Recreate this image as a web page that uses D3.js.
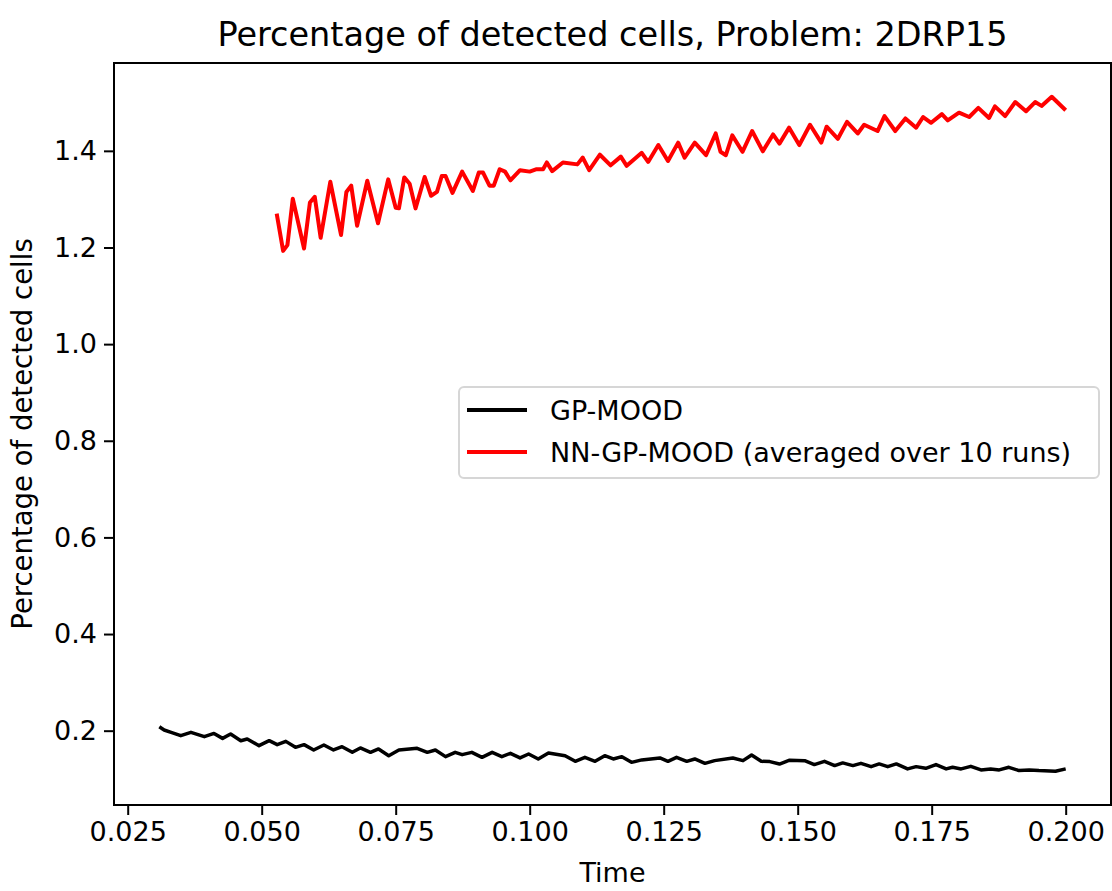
<!DOCTYPE html>
<html>
<head>
<meta charset="utf-8">
<script src="https://cdn.jsdelivr.net/npm/d3@7"></script>
<style>
  body { margin: 0; background: #fff; }
  text { font-family: "DejaVu Sans", sans-serif; fill: #000; }
</style>
</head>
<body>
<div id="chart"></div>
<script>
var width = 1112;
var height = 891;

// GP-MOOD (black)
var blackTime = [0.0309,0.0318,0.0331,0.0349,0.0368,0.0393,0.0411,0.0427,0.0442,0.0461,0.0473,0.0495,0.0514,0.0529,0.0545,0.0563,0.0579,0.0597,0.0616,0.0634,0.0650,0.0669,0.0684,0.0703,0.0718,0.0737,0.0756,0.0790,0.0809,0.0824,0.0843,0.0861,0.0874,0.0892,0.0911,0.0930,0.0948,0.0964,0.0982,0.0998,0.1016,0.1035,0.1066,0.1085,0.1103,0.1122,0.1140,0.1156,0.1172,0.1190,0.1209,0.1243,0.1258,0.1274,0.1293,0.1308,0.1327,0.1345,0.1379,0.1398,0.1414,0.1432,0.1448,0.1466,0.1485,0.1513,0.1531,0.1550,0.1569,0.1584,0.1603,0.1618,0.1637,0.1652,0.1668,0.1684,0.1705,0.1721,0.1739,0.1758,0.1777,0.1789,0.1805,0.1823,0.1842,0.1860,0.1876,0.1894,0.1913,0.1932,0.1950,0.1981,0.2000];
var blackVal = [0.208,0.2014,0.1965,0.1897,0.1965,0.1876,0.1944,0.1841,0.1932,0.1793,0.1828,0.1690,0.1793,0.1711,0.1779,0.1655,0.1711,0.1601,0.1704,0.1601,0.1669,0.1552,0.1642,0.1552,0.1622,0.1483,0.1601,0.1635,0.1552,0.1601,0.1463,0.1552,0.1504,0.1552,0.1448,0.1552,0.1463,0.1531,0.1436,0.1518,0.1415,0.1539,0.1483,0.1366,0.1448,0.1366,0.1483,0.1415,0.1463,0.1345,0.1395,0.1436,0.1366,0.1448,0.1366,0.1415,0.1324,0.1380,0.1436,0.1380,0.1498,0.1366,0.1360,0.1310,0.1390,0.1380,0.1298,0.1366,0.1277,0.1333,0.1277,0.1324,0.1256,0.1312,0.1256,0.1312,0.1209,0.1256,0.1221,0.1298,0.1209,0.1242,0.1209,0.1262,0.1188,0.1209,0.1188,0.1242,0.1174,0.1188,0.1174,0.1160,0.1209];

// NN-GP-MOOD (red)
var redTime = [0.0528,0.0540,0.0548,0.0558,0.0579,0.0590,0.0599,0.0610,0.0628,0.0648,0.0658,0.0667,0.0678,0.0697,0.0717,0.0736,0.0750,0.0756,0.0766,0.0776,0.0787,0.0804,0.0816,0.0827,0.0836,0.0843,0.0856,0.0874,0.0894,0.0905,0.0913,0.0925,0.0933,0.0944,0.0954,0.0964,0.0982,0.1000,0.1013,0.1025,0.1032,0.1042,0.1062,0.1089,0.1099,0.1111,0.1131,0.1151,0.1170,0.1181,0.1209,0.1221,0.1240,0.1258,0.1277,0.1289,0.1308,0.1329,0.1347,0.1356,0.1366,0.1378,0.1397,0.1415,0.1435,0.1454,0.1466,0.1484,0.1503,0.1523,0.1544,0.1554,0.1575,0.1592,0.1612,0.1624,0.1649,0.1662,0.1682,0.1701,0.1721,0.1734,0.1749,0.1769,0.1780,0.1801,0.1820,0.1837,0.1857,0.1868,0.1887,0.1906,0.1926,0.1943,0.1955,0.1974,0.2000];
var redVal = [1.270,1.193,1.205,1.301,1.198,1.293,1.305,1.220,1.336,1.226,1.315,1.328,1.245,1.338,1.250,1.341,1.282,1.281,1.345,1.332,1.281,1.346,1.307,1.315,1.348,1.348,1.313,1.357,1.317,1.355,1.355,1.328,1.328,1.362,1.357,1.339,1.360,1.357,1.362,1.362,1.376,1.358,1.376,1.372,1.386,1.360,1.392,1.370,1.388,1.369,1.396,1.377,1.412,1.379,1.417,1.386,1.417,1.391,1.436,1.398,1.391,1.432,1.398,1.441,1.399,1.434,1.415,1.448,1.412,1.454,1.417,1.450,1.425,1.460,1.436,1.454,1.441,1.472,1.441,1.467,1.448,1.470,1.458,1.476,1.463,1.479,1.470,1.489,1.468,1.492,1.472,1.501,1.482,1.501,1.493,1.512,1.484];

var xTicks = [0.025,0.050,0.075,0.100,0.125,0.150,0.175,0.200];
var yTicks = [0.2,0.4,0.6,0.8,1.0,1.2,1.4];
var seriesNames = ["GP-MOOD","NN-GP-MOOD (averaged over 10 runs)"];
var seriesColors = ["black","red"];

var margin = {left: 114, top: 63, right: 1, bottom: 86};

var svg = d3.select("#chart")
	.append("svg")
	.attr("width", width)
	.attr("height", height);

// matplotlib style 5% padding
function padded(ext){
	var p = (ext[1]-ext[0])*0.05;
	return [ext[0]-p, ext[1]+p];
}
var xExt = d3.extent(blackTime.concat(redTime));
var yExt = d3.extent(blackVal.concat(redVal));

var x = d3.scaleLinear()
	.domain(padded(xExt))
	.range([margin.left, width-margin.right]);
var y = d3.scaleLinear()
	.domain(padded(yExt))
	.range([height-margin.bottom, margin.top]);

var black = blackTime.map(function(t,i){ return [t, blackVal[i]]; });
var red = redTime.map(function(t,i){ return [t, redVal[i]]; });

var line = d3.line()
	.x(d => x(d[0]))
	.y(d => y(d[1]));

svg.append("path")
	.datum(black)
	.attr("d", line)
	.attr("fill","none")
	.attr("stroke", seriesColors[0])
	.attr("stroke-width", 3.5)
	.attr("stroke-linejoin","round");

svg.append("path")
	.datum(red)
	.attr("d", line)
	.attr("fill","none")
	.attr("stroke", seriesColors[1])
	.attr("stroke-width", 4)
	.attr("stroke-linejoin","round");

// axes
var xAxis = svg.append("g")
	.attr("transform", `translate(0,${height-margin.bottom})`)
	.call(d3.axisBottom(x).tickValues(xTicks).tickFormat(d3.format(".3f")).tickSize(10).tickPadding(7));
var yAxis = svg.append("g")
	.attr("transform", `translate(${margin.left},0)`)
	.call(d3.axisLeft(y).tickValues(yTicks).tickFormat(d3.format(".1f")).tickSize(10).tickPadding(7));

[xAxis, yAxis].forEach(function(g){
	g.select(".domain").remove();
	g.selectAll(".tick line").attr("stroke","#000").attr("stroke-width",2);
	g.selectAll(".tick text").attr("font-size",27).attr("font-family","DejaVu Sans").attr("fill","#000");
});

// frame
svg.append("rect")
	.attr("x", margin.left)
	.attr("y", margin.top)
	.attr("width", width-margin.right-margin.left)
	.attr("height", height-margin.bottom-margin.top)
	.attr("fill","none")
	.attr("stroke","#000")
	.attr("stroke-width",2);

// title and labels
svg.append("text")
	.attr("x", (margin.left + width - margin.right)/2)
	.attr("y", 46)
	.attr("text-anchor","middle")
	.attr("font-size",33.5)
	.text("Percentage of detected cells, Problem: 2DRP15");

svg.append("text")
	.attr("x", (margin.left + width - margin.right)/2)
	.attr("y", 882)
	.attr("text-anchor","middle")
	.attr("font-size",27)
	.text("Time");

svg.append("text")
	.attr("transform", `translate(32,${(margin.top+height-margin.bottom)/2}) rotate(-90)`)
	.attr("text-anchor","middle")
	.attr("font-size",27.5)
	.text("Percentage of detected cells");

// legend
var legend = svg.append("g").attr("transform","translate(459,387)");
legend.append("rect")
	.attr("width", 640)
	.attr("height", 91)
	.attr("rx", 5)
	.attr("fill","#fff")
	.attr("fill-opacity",0.8)
	.attr("stroke","#d6d6d6")
	.attr("stroke-width",2);

var items = legend.selectAll(".item")
	.data(seriesNames)
	.join("g")
	.attr("class","item")
	.attr("transform", (d,i) => `translate(0,${23 + i*42})`);
items.append("line")
	.attr("x1", 8).attr("x2", 68)
	.attr("stroke", (d,i) => seriesColors[i])
	.attr("stroke-width", 4);
items.append("text")
	.attr("x", 91)
	.attr("y", 10)
	.attr("font-size",27)
	.text(d => d);
</script>
</body>
</html>
